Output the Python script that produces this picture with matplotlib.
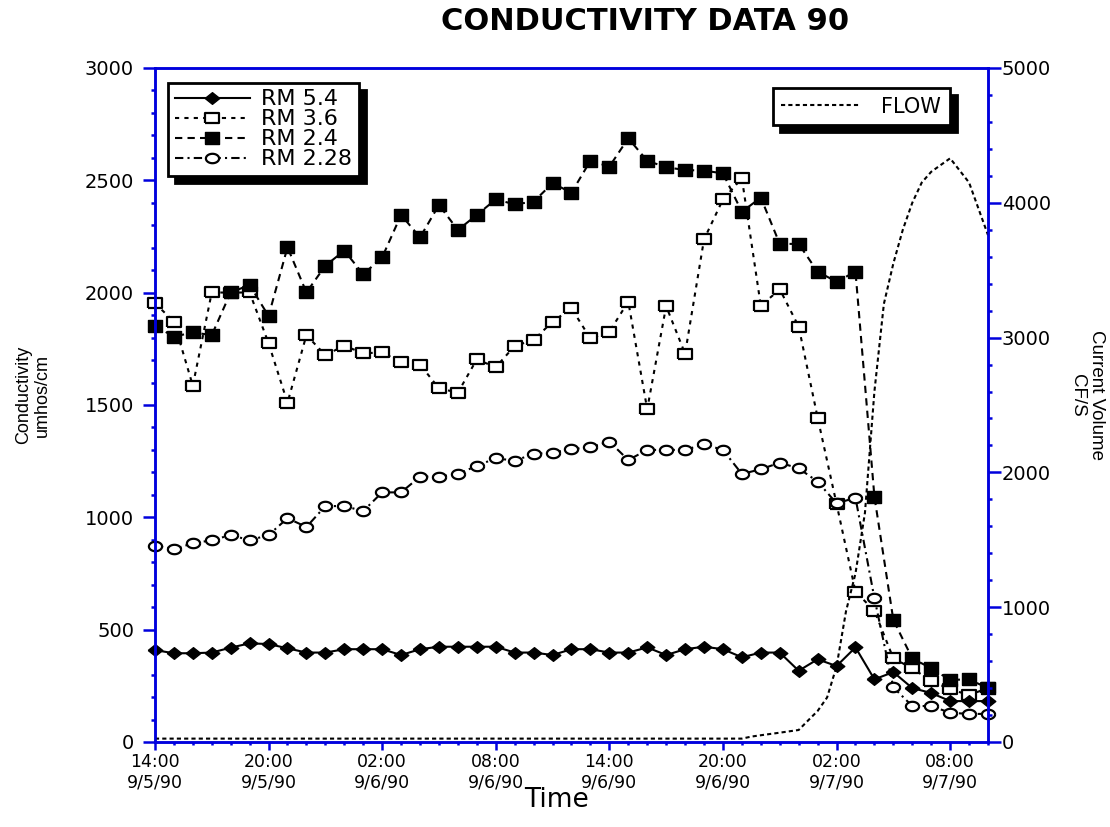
import matplotlib
matplotlib.use('Agg')
import matplotlib.pyplot as plt
import numpy as np

# hourly readings starting 14:00 9/5/90
hours = np.arange(45)

rm54 = [409, 395, 395, 398, 420, 439, 436, 417, 398, 398, 413, 413, 413, 387, 413,
        424, 424, 424, 424, 398, 398, 387, 413, 413, 398, 398, 421, 387, 413, 424,
        413, 377, 398, 398, 317, 368, 338, 421, 279, 311, 240, 218, 182, 182, 182]
rm36 = [1953, 1871, 1586, 2001, 2000, 2001, 1775, 1510, 1811, 1722, 1764, 1730, 1734, 1690, 1680,
        1574, 1555, 1703, 1668, 1763, 1789, 1871, 1930, 1796, 1826, 1960, 1481, 1940, 1728, 2237,
        2415, 2509, 1941, 2015, 1849, 1444, 1060, 669, 584, 372, 328, 271, 235, 209, 240]
rm24 = [1853, 1804, 1823, 1811, 2001, 2034, 1896, 2202, 2001, 2120, 2187, 2082, 2157, 2346, 2246,
        2390, 2279, 2346, 2415, 2393, 2405, 2487, 2445, 2587, 2561, 2687, 2587, 2558, 2546, 2543,
        2531, 2360, 2423, 2217, 2217, 2093, 2049, 2093, 1092, 543, 372, 328, 276, 279, 239]
rm228 = [874, 859, 884, 898, 921, 898, 921, 996, 957, 1050, 1050, 1028, 1111, 1111, 1181,
         1181, 1193, 1229, 1263, 1252, 1282, 1288, 1303, 1312, 1337, 1255, 1300, 1300, 1300, 1325,
         1300, 1193, 1214, 1243, 1218, 1159, 1062, 1087, 640, 243, 160, 160, 130, 125, 125]

flow_hours = [0, 31, 31.5, 32, 33, 34, 34.5, 35, 35.5, 36, 36.5, 37, 37.5, 38, 38.5,
              39, 39.5, 40, 40.5, 41, 42, 43, 44]
flow_cfs = [25, 25, 40, 50, 69, 89, 160, 230, 330, 560, 970, 1250, 1700, 2600, 3250,
            3550, 3800, 4000, 4150, 4230, 4330, 4150, 3760]

tick_hours = [0, 6, 12, 18, 24, 30, 36, 42]
tick_labels = ['14:00\n9/5/90', '20:00\n9/5/90', '02:00\n9/6/90', '08:00\n9/6/90',
               '14:00\n9/6/90', '20:00\n9/6/90', '02:00\n9/7/90', '08:00\n9/7/90']

blue = '#0000dd'

# wide markers like the original plot
rect = [(-1.25, -1), (1.25, -1), (1.25, 1), (-1.25, 1), (-1.25, -1)]
diamond = [(-1.25, 0), (0, 1), (1.25, 0), (0, -1), (-1.25, 0)]
t = np.linspace(0, 2 * np.pi, 40)
ellipse = list(zip(1.4 * np.cos(t), np.sin(t)))

fig = plt.figure(figsize=(11.1, 8.27), dpi=100)
ax = fig.add_axes([0.1396, 0.1028, 0.7505, 0.815])
ax2 = ax.twinx()

l36, = ax.plot(hours, rm36, color='black', lw=1.5, dashes=(2, 2.5), marker=rect,
               ms=9.5, mfc='white', mec='black', mew=1.6, clip_on=False, label='RM 3.6')
l24, = ax.plot(hours, rm24, color='black', lw=1.5, dashes=(3.5, 2.5), marker=rect,
               ms=10.5, mfc='black', mec='black', clip_on=False, label='RM 2.4')
l228, = ax.plot(hours, rm228, color='black', lw=1.5, dashes=(4, 2, 1, 2), marker=ellipse,
                ms=9.5, mfc='white', mec='black', mew=1.6, clip_on=False, label='RM 2.28')
l54, = ax.plot(hours, rm54, color='black', lw=1.5, ls='-', marker=diamond,
               ms=10.5, mfc='black', mec='black', clip_on=False, label='RM 5.4')

lflow, = ax2.plot(flow_hours, flow_cfs, color='black', lw=1.5, dashes=(2, 1.5), label='FLOW')

ax.set_xlim(0, 44)
ax.set_ylim(0, 3000)
ax2.set_ylim(0, 5000)
ax.set_xticks(tick_hours)
ax.set_xticklabels(tick_labels, fontsize=12.5)
ax.set_xticks(np.arange(0, 45), minor=True)
ax.set_yticks(np.arange(0, 3001, 500))
ax.set_yticks(np.arange(0, 3001, 100), minor=True)
ax2.set_yticks(np.arange(0, 5001, 1000))
ax2.set_yticks(np.arange(0, 5001, 200), minor=True)

for a in (ax, ax2):
    for s in a.spines.values():
        s.set_color(blue)
        s.set_linewidth(1.8)
ax.tick_params(axis='y', which='major', direction='out', length=9, width=1.8, color=blue,
               labelsize=14, pad=6)
ax.tick_params(axis='y', which='minor', direction='out', length=3, width=1.8, color=blue)
ax.tick_params(axis='x', which='major', direction='out', length=6, width=1.8, color=blue, pad=2)
ax.tick_params(axis='x', which='minor', direction='out', length=2, width=1.8, color=blue)
ax2.tick_params(axis='y', which='major', direction='out', length=9, width=1.8, color=blue,
                labelsize=14, pad=1)
ax2.tick_params(axis='y', which='minor', direction='out', length=3, width=1.8, color=blue)

shadow = {'ox': 5, 'oy': -5, 'facecolor': 'black', 'edgecolor': 'black', 'alpha': 1}
leg1 = ax2.legend(handles=[l54, l36, l24, l228], loc='upper left', bbox_to_anchor=(0.0156, 0.978),
                  borderaxespad=0, fontsize=16, frameon=True, fancybox=False, shadow=shadow,
                  handlelength=3.4, handletextpad=0.5, labelspacing=0.0, borderpad=0.3,
                  framealpha=1, edgecolor='black', numpoints=1)
leg1.get_frame().set_linewidth(2)
ax2.add_artist(leg1)
leg2 = ax2.legend(handles=[lflow], loc='upper right', bbox_to_anchor=(0.954, 0.970),
                  borderaxespad=0, fontsize=15, frameon=True, fancybox=False, shadow=shadow,
                  handlelength=3.8, handletextpad=1.0, borderpad=0.4, framealpha=1,
                  edgecolor='black')
leg2.get_frame().set_linewidth(2)

fig.text(645 / 1110, 1 - 22 / 827, 'CONDUCTIVITY DATA 90', fontsize=22, fontweight='bold',
         ha='center', va='center')
fig.text(556 / 1110, 1 - 800 / 827, 'Time', fontsize=19, ha='center', va='center')
fig.text(33 / 1110, 1 - 395 / 827, 'Conductivity\numhos/cm', fontsize=13, rotation=90,
         ha='center', va='center', multialignment='center',
         family=['Liberation Sans Narrow', 'Liberation Sans'])
fig.text(1087 / 1110, 1 - 395 / 827, 'Current Volume\nCF/S', fontsize=13.5, rotation=270,
         ha='center', va='center', multialignment='center',
         family=['Liberation Sans Narrow', 'Liberation Sans'])

plt.savefig('out.png', dpi=100)
